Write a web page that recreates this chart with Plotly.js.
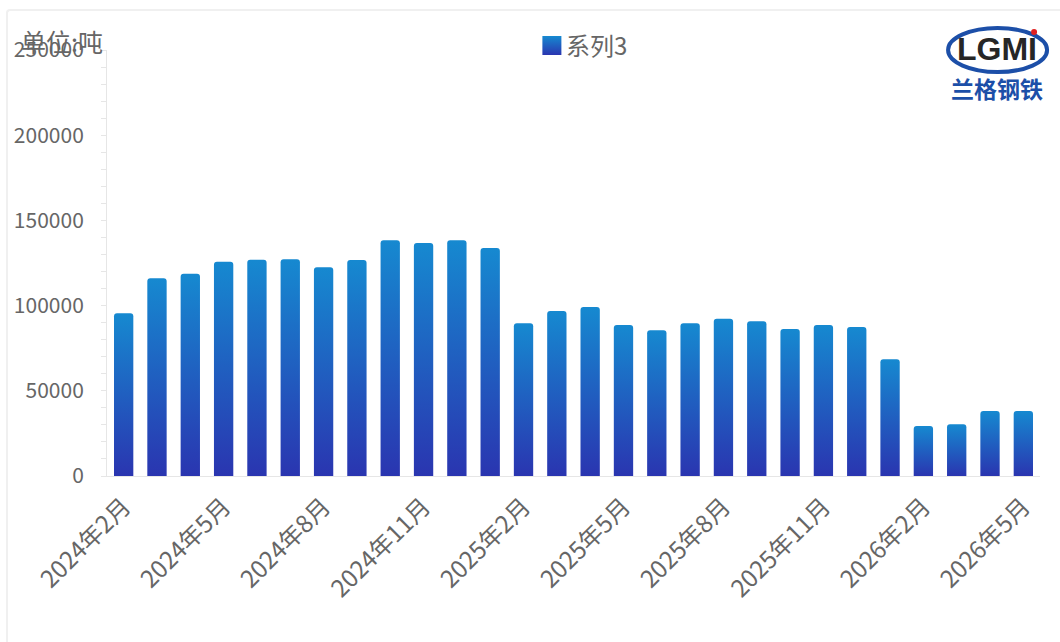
<!DOCTYPE html>
<html>
<head>
<meta charset="utf-8">
<script src="https://cdn.plot.ly/plotly-3.0.1.min.js"></script>
<style>
  html, body { margin: 0; padding: 0; background: #ffffff; }
  #frame { position: absolute; left: 6px; top: 9px; width: 1060px; height: 640px;
           border-top: 2px solid #f0f0f0; border-left: 2px solid #f0f0f0; border-top-left-radius: 4px; }
  #chart { position: absolute; left: 0; top: 0; width: 1060px; height: 642px; }
</style>
</head>
<body>
<div id="frame"></div>
<div id="chart"></div>
<script>
// ---- data ----
var months = [
  "2024年2月","2024年3月","2024年4月","2024年5月","2024年6月","2024年7月",
  "2024年8月","2024年9月","2024年10月","2024年11月","2024年12月",
  "2025年1月","2025年2月","2025年3月","2025年4月","2025年5月","2025年6月",
  "2025年7月","2025年8月","2025年9月","2025年10月","2025年11月","2025年12月",
  "2026年1月","2026年2月","2026年3月","2026年4月","2026年5月"
];
var series3 = [
  95500, 116000, 118700, 125800, 126900, 127200,
  122500, 126800, 138300, 136700, 138300,
  133800, 89600, 96800, 99200, 88600, 85500,
  89600, 92300, 90800, 86300, 88600, 87400,
  68500, 29300, 30300, 38100, 38100
];
var tickLabels = [
  "2024年2月","2024年5月","2024年8月","2024年11月","2025年2月",
  "2025年5月","2025年8月","2025年11月","2026年2月","2026年5月"
];
var seriesName = "系列3";
var unitLabel = "单位:吨";

var FONT = '"Noto Sans CJK SC", "Noto Sans", sans-serif';

var trace = {
  type: "bar",
  x: months,
  y: series3,
  name: seriesName,
  showlegend: true,
  marker: { color: "#1f6fc6", line: { width: 0 } },
  hoverinfo: "x+y"
};

var layout = {
  width: 1060,
  height: 642,
  margin: { l: 107, r: 20, t: 50, b: 166 },
  paper_bgcolor: "rgba(0,0,0,0)",
  plot_bgcolor: "rgba(0,0,0,0)",
  font: { family: FONT, color: "#666666", size: 21 },
  bargap: 0.42,
  barcornerradius: 3,
  showlegend: true,
  legend: {
    orientation: "h", x: 0.4554, xanchor: "left", y: 1.0094, yanchor: "middle",
    font: { family: FONT, size: 24, color: "#666666" },
    itemwidth: 30, bgcolor: "rgba(0,0,0,0)"
  },
  xaxis: {
    type: "category",
    tickmode: "array",
    tickvals: tickLabels,
    ticktext: tickLabels,
    tickangle: -45,
    ticks: "",
    showline: true, linecolor: "#e6e6e6", linewidth: 1,
    showgrid: false, zeroline: false,
    ticklabelstandoff: 6,
    tickfont: { family: FONT, size: 24, color: "#666666" }
  },
  yaxis: {
    range: [0, 250000],
    dtick: 50000,
    tickformat: "d",
    ticks: "outside", ticklen: 5, tickcolor: "#e6e6e6", tickwidth: 1,
    minor: { dtick: 10000, ticks: "outside", ticklen: 5, tickcolor: "#e6e6e6", tickwidth: 1, showgrid: false },
    showline: true, linecolor: "#e6e6e6", linewidth: 1,
    showgrid: false, zeroline: false,
    ticklabelstandoff: 13,
    tickfont: { family: FONT, size: 21, color: "#666666" }
  },
  shapes: [
    { type: "circle", xref: "paper", yref: "paper", xsizemode: "pixel", ysizemode: "pixel",
      xanchor: 0.954, yanchor: 1.0, x0: -49, x1: 50, y0: -22, y1: 22,
      line: { color: "#1c4fa8", width: 4 }, fillcolor: "rgba(255,255,255,0)" },
    { type: "circle", xref: "paper", yref: "paper", xsizemode: "pixel", ysizemode: "pixel",
      xanchor: 0.954, yanchor: 1.0, x0: 34, x1: 40, y0: 15, y1: 21,
      line: { width: 0 }, fillcolor: "#e02020" }
  ],
  annotations: [
    { text: unitLabel, xref: "paper", yref: "paper", x: -0.0911, y: 1.0, xanchor: "left", yanchor: "middle",
      xshift: -3, yshift: 9, showarrow: false, font: { family: FONT, size: 25, color: "#666666" } },
    { text: "<b>LGMI</b>", xref: "paper", yref: "paper", x: 0.954, y: 1.0, xanchor: "center", yanchor: "middle",
      xshift: 0, yshift: 1, showarrow: false, font: { family: "Liberation Sans", size: 32, color: "#262626" } },
    { text: "<b>兰格钢铁</b>", xref: "paper", yref: "paper", x: 0.954, y: 1.0, xanchor: "center", yanchor: "middle",
      xshift: 0, yshift: -38, showarrow: false, font: { family: FONT, size: 23, color: "#1c4fa8" } }
  ]
};

Plotly.newPlot("chart", [trace], layout, { displayModeBar: false, staticPlot: true }).then(function (gd) {
  var svg = gd.querySelector(".main-svg");
  var ns = "http://www.w3.org/2000/svg";
  var defs = svg.querySelector("defs") || svg.insertBefore(document.createElementNS(ns, "defs"), svg.firstChild);
  var grad = document.createElementNS(ns, "linearGradient");
  grad.setAttribute("id", "barGrad");
  grad.setAttribute("x1", "0"); grad.setAttribute("y1", "0");
  grad.setAttribute("x2", "0"); grad.setAttribute("y2", "1");
  [["0%", "#1689d0"], ["100%", "#2a35b0"]].forEach(function (s) {
    var st = document.createElementNS(ns, "stop");
    st.setAttribute("offset", s[0]);
    st.setAttribute("stop-color", s[1]);
    grad.appendChild(st);
  });
  defs.appendChild(grad);
  gd.querySelectorAll(".bars .point path").forEach(function (p) {
    p.style.fill = "url(#barGrad)";
  });
  gd.querySelectorAll(".legend .legendpoints path").forEach(function (p) {
    p.style.fill = "url(#barGrad)";
    p.setAttribute("d", "M9.5,9.5H-9.5V-9.5H9.5Z");
  });
  gd.querySelectorAll(".legend text.legendtext").forEach(function (t) {
    t.setAttribute("x", "34");
  });
  var bg = gd.querySelector(".legend .bg");
  if (bg) { bg.setAttribute("width", "200"); }
});
</script>
</body>
</html>
